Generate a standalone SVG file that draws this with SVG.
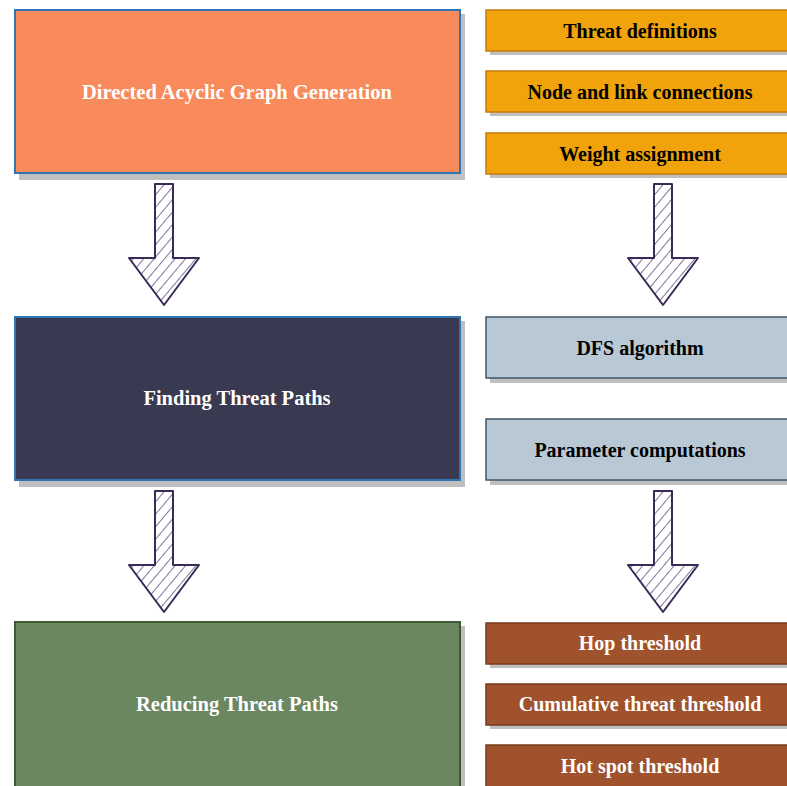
<svg xmlns="http://www.w3.org/2000/svg" width="787" height="786" viewBox="0 0 787 786">
<defs>
<pattern id="hatch" patternUnits="userSpaceOnUse" width="8" height="8" patternTransform="rotate(40)">
<line x1="0" y1="0" x2="0" y2="8" stroke="#4a3a72" stroke-width="1.4"/>
</pattern>
<symbol id="arrow" overflow="visible">
<path d="M-9,0 L9,0 L9,74 L35,74 L0,121 L-35,74 L-9,74 Z" fill="url(#hatch)" stroke="#3a2a58" stroke-width="2" stroke-linejoin="round"/>
</symbol>
</defs>
<style>
.sh{fill:#bfbfbf}
.big{font-family:"Liberation Serif","Times New Roman",serif;font-weight:bold;font-size:20.5px;fill:#fff;text-anchor:middle}
.sm{font-family:"Liberation Serif","Times New Roman",serif;font-weight:bold;font-size:20px;text-anchor:middle}
.or{fill:#f0a30a;stroke:#c77a0a;stroke-width:1.5}
.bg{fill:#b9c8d5;stroke:#3e5568;stroke-width:1.5}
.br{fill:#a0522d;stroke:#7a3b1d;stroke-width:1.5}
</style>
<rect width="787" height="786" fill="#fff"/>
<g id="dag">
<rect class="sh" x="19" y="14" width="446" height="166"/>
<rect x="15" y="10" width="445" height="163" fill="#f98a5b" stroke="#2e75b6" stroke-width="2"/>
<text class="big" x="237" y="99">Directed Acyclic Graph Generation</text>
</g>
<g id="find">
<rect class="sh" x="19" y="321" width="446" height="166"/>
<rect x="15" y="317" width="445" height="163" fill="#393a52" stroke="#2e75b6" stroke-width="2"/>
<text class="big" x="237" y="405">Finding Threat Paths</text>
</g>
<g id="reduce">
<rect class="sh" x="19" y="626" width="446" height="170"/>
<rect x="15" y="622" width="445" height="170" fill="#6b8762" stroke="#3f5a32" stroke-width="2"/>
<text class="big" x="237" y="711">Reducing Threat Paths</text>
</g>
<g id="threat-def">
<rect class="sh" x="490" y="14" width="310" height="41"/>
<rect class="or" x="486" y="10" width="310" height="41"/>
<text class="sm" x="640" y="38">Threat definitions</text>
</g>
<g id="node-link">
<rect class="sh" x="490" y="75" width="310" height="41"/>
<rect class="or" x="486" y="71" width="310" height="41"/>
<text class="sm" x="640" y="99">Node and link connections</text>
</g>
<g id="weight">
<rect class="sh" x="490" y="137" width="310" height="41"/>
<rect class="or" x="486" y="133" width="310" height="41"/>
<text class="sm" x="640" y="161">Weight assignment</text>
</g>
<g id="dfs">
<rect class="sh" x="490" y="321" width="310" height="62"/>
<rect class="bg" x="486" y="317" width="310" height="61"/>
<text class="sm" x="640" y="355">DFS algorithm</text>
</g>
<g id="param">
<rect class="sh" x="490" y="423" width="310" height="62"/>
<rect class="bg" x="486" y="419" width="310" height="61"/>
<text class="sm" x="640" y="457">Parameter computations</text>
</g>
<g id="hop">
<rect class="sh" x="490" y="627" width="310" height="41"/>
<rect class="br" x="486" y="623" width="310" height="41"/>
<text class="sm" x="640" y="650" fill="#fff">Hop threshold</text>
</g>
<g id="cumulative">
<rect class="sh" x="490" y="688" width="310" height="41"/>
<rect class="br" x="486" y="684" width="310" height="41"/>
<text class="sm" x="640" y="711" fill="#fff">Cumulative threat threshold</text>
</g>
<g id="hotspot">
<rect class="sh" x="490" y="749" width="310" height="41"/>
<rect class="br" x="486" y="745" width="310" height="45"/>
<text class="sm" x="640" y="773" fill="#fff">Hot spot threshold</text>
</g>
<g id="connectors">
<use href="#arrow" x="164" y="184"/>
<use href="#arrow" x="663" y="184"/>
<use href="#arrow" x="164" y="491"/>
<use href="#arrow" x="663" y="491"/>
</g>
</svg>
